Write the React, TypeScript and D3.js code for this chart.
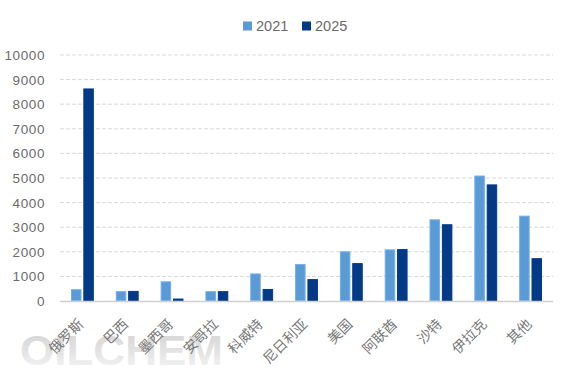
import React from "react";
import * as d3 from "d3";

const categories = ["俄罗斯", "巴西", "墨西哥", "安哥拉", "科威特", "尼日利亚", "美国", "阿联酋", "沙特", "伊拉克", "其他"];
const values2021 = [480, 400, 800, 400, 1120, 1500, 2020, 2100, 3320, 5100, 3470];
const values2025 = [8640, 410, 100, 400, 490, 890, 1540, 2110, 3120, 4740, 1740];
const seriesNames = ["2021", "2025"];
const yTicks = [0, 1000, 2000, 3000, 4000, 5000, 6000, 7000, 8000, 9000, 10000];

const W = 567;
const H = 378;
const left = 60;
const right = 553;
const top = 55;
const bottom = 301;
const colors = ["#5b9bd5", "#023a86"];
const strokeColors = ["#72adf3", "#023a86"];
const textColor = "#6b6b6b";

export default function App() {
  const y = d3.scaleLinear().domain([0, 10000]).range([bottom, top]);
  const x0 = d3.scaleBand<string>().domain(categories).range([left, right]).paddingInner(0.49).paddingOuter(0.245);
  const x1 = d3.scaleBand<string>().domain(seriesNames).range([0, x0.bandwidth()]).paddingInner(0.15);
  const series = [values2021, values2025];

  return (
    <svg width={W} height={H} style={{ position: "fixed", left: 0, top: 0, background: "#fff" }}
      fontFamily="'Liberation Sans', Arial, 'Noto Sans CJK SC', sans-serif">
      <defs>
        <linearGradient id="wm" x1="0" y1="0" x2="0" y2="1">
          <stop offset="0" stopColor="#cdcdcd" />
          <stop offset="0.55" stopColor="#e2e2e2" />
          <stop offset="1" stopColor="#f8f8f8" />
        </linearGradient>
      </defs>
      {/* watermark */}
      <text x={20} y={365} fontSize={42} fontWeight="bold" fill="url(#wm)" textLength={203}
        lengthAdjust="spacingAndGlyphs" fontFamily="'Liberation Sans', Arial, sans-serif" opacity={0.9}>OILCHEM</text>
      {/* gridlines */}
      {yTicks.filter(t => t > 0).map(t => (
        <line key={t} x1={left} x2={right} y1={y(t)} y2={y(t)} stroke="#d9d9d9" strokeWidth={1} strokeDasharray="4,2" />
      ))}
      {/* y labels */}
      {yTicks.map(t => (
        <text key={t} x={45} y={y(t) + 5} textAnchor="end" fontSize={13.5} fill={textColor} letterSpacing={0.6}>{t}</text>
      ))}
      {/* bars */}
      {categories.map((c, i) => (
        <g key={c} transform={`translate(${x0(c)},0)`}>
          {series.map((vals, s) => (
            <rect key={s} x={(x1(seriesNames[s]) as number) + 0.5} y={y(vals[i]) + 0.5}
              width={x1.bandwidth() - 1} height={Math.max(0, bottom - y(vals[i]) - 1)}
              fill={colors[s]} stroke={strokeColors[s]} strokeWidth={1} />
          ))}
        </g>
      ))}
      {/* axis line */}
      <line x1={left} x2={right} y1={bottom + 0.5} y2={bottom + 0.5} stroke="#d0d0d0" strokeWidth={1.5} />
      {/* x labels */}
      {categories.map(c => {
        const cx = (x0(c) as number) + x0.bandwidth() / 2;
        return (
          <text key={c} transform={`translate(${cx + 2},${bottom + 24}) rotate(-45)`} textAnchor="end"
            fontSize={14} fill="#777777" fontFamily="'Noto Sans CJK SC', sans-serif">{c}</text>
        );
      })}
      {/* legend */}
      {seriesNames.map((n, i) => (
        <g key={n} transform={`translate(${243 + i * 59},0)`}>
          <rect x={0} y={21.5} width={9} height={9} fill={colors[i]} />
          <text x={13} y={30.5} fontSize={14.5} fill={textColor}>{n}</text>
        </g>
      ))}
    </svg>
  );
}
